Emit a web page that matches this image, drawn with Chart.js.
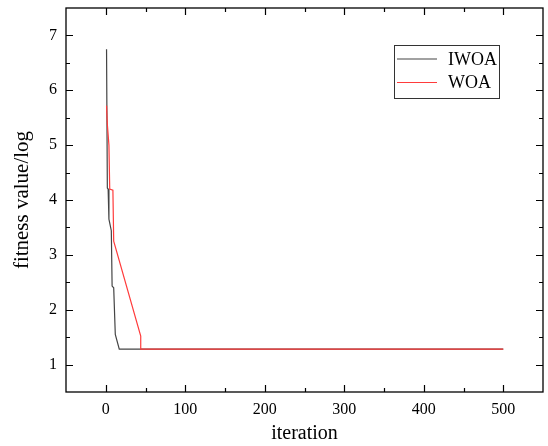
<!DOCTYPE html>
<html>
<head>
<meta charset="utf-8">
<script src="https://cdn.jsdelivr.net/npm/chart.js@4"></script>
<style>
  html, body { margin: 0; padding: 0; background: #fff; }
  #wrap { width: 548px; height: 446px; }
</style>
</head>
<body>
<div id="wrap"><canvas id="fitChart" width="548" height="446"></canvas></div>
<script>
// ---- data ----
const iwoaIter = [1, 2, 3, 4, 7, 8, 10, 12, 17, 500];
const iwoaFit  = [6.75, 4.22, 4.2, 3.65, 3.44, 2.43, 2.4, 1.55, 1.28, 1.28];
const woaIter  = [1, 2, 4, 5, 9, 10, 44, 44, 500];
const woaFit   = [5.72, 5.38, 5.0, 4.2, 4.18, 3.25, 1.52, 1.28, 1.28];
const xTicks = [0, 100, 200, 300, 400, 500];
const yTicks = [1, 2, 3, 4, 5, 6, 7];
const xMinor = [50, 150, 250, 350, 450];
const yMinor = [1.5, 2.5, 3.5, 4.5, 5.5, 6.5];

const FONT = "'Liberation Serif', 'Times New Roman', serif";

function pts(xs, ys) {
    return xs.map((x, i) => ({ x: x, y: ys[i] }));
}

/* frame, inward ticks and boxed legend inside the plot */
const framePlugin = {
    id: "frame",
    afterDraw(chart) {
        const ctx = chart.ctx;
        const a = chart.chartArea;
        const xs = chart.scales.x, ys = chart.scales.y;
        ctx.save();
        ctx.strokeStyle = "#000";
        ctx.lineWidth = 1.3;
        ctx.strokeRect(a.left, a.top, a.right - a.left, a.bottom - a.top);

        ctx.lineWidth = 1.2;
        ctx.beginPath();
        const tx = (v, len) => {
            const p = Math.round(xs.getPixelForValue(v)) + 0.5;
            ctx.moveTo(p, a.bottom); ctx.lineTo(p, a.bottom - len);
            ctx.moveTo(p, a.top); ctx.lineTo(p, a.top + len);
        };
        const ty = (v, len) => {
            const p = Math.round(ys.getPixelForValue(v)) + 0.5;
            ctx.moveTo(a.left, p); ctx.lineTo(a.left + len, p);
            ctx.moveTo(a.right, p); ctx.lineTo(a.right - len, p);
        };
        xTicks.forEach(v => tx(v, 7));
        xMinor.forEach(v => tx(v, 4));
        yTicks.forEach(v => ty(v, 7));
        yMinor.forEach(v => ty(v, 4));
        ctx.stroke();

        // legend box
        const bx = 394, by = 45, bw = 105, bh = 53;
        ctx.lineWidth = 1;
        ctx.strokeStyle = "#333";
        ctx.fillStyle = "#fff";
        ctx.fillRect(bx, by, bw, bh);
        ctx.strokeRect(bx + 0.5, by + 0.5, bw, bh);
        ctx.font = "18px " + FONT;
        ctx.textBaseline = "middle";
        chart.data.datasets.forEach((ds, i) => {
            const yy = by + 14 + i * 23.5;
            ctx.strokeStyle = ds.borderColor;
            ctx.lineWidth = 1.2;
            ctx.beginPath();
            ctx.moveTo(bx + 3, yy); ctx.lineTo(bx + 43, yy);
            ctx.stroke();
            ctx.fillStyle = "#000";
            ctx.fillText(ds.label, bx + 54, yy + 1);
        });
        ctx.restore();
    }
};

new Chart(document.getElementById("fitChart"), {
    type: "scatter",
    data: {
        datasets: [
            {
                label: "IWOA",
                data: pts(iwoaIter, iwoaFit),
                showLine: true,
                borderColor: "#444444",
                borderWidth: 1.2,
                pointRadius: 0,
                tension: 0,
                order: 1
            },
            {
                label: "WOA",
                data: pts(woaIter, woaFit),
                showLine: true,
                borderColor: "#ff3b3b",
                borderWidth: 1.2,
                pointRadius: 0,
                tension: 0,
                order: 0
            }
        ]
    },
    options: {
        responsive: false,
        animation: false,
        layout: { padding: { top: 8, right: 5, left: 0, bottom: 0 } },
        scales: {
            x: {
                type: "linear",
                min: -50,
                max: 550,
                afterBuildTicks: s => { s.ticks = xTicks.map(v => ({ value: v })); },
                afterFit: s => { s.height = 54; s.paddingLeft = 0; s.paddingRight = 0; },
                grid: { display: false, drawTicks: false },
                border: { display: false },
                ticks: {
                    padding: 8,
                    color: "#000",
                    font: { family: FONT, size: 16 }
                },
                title: {
                    display: true,
                    text: "iteration",
                    color: "#000",
                    padding: { top: 13, bottom: 0 },
                    font: { family: FONT, size: 20 }
                }
            },
            y: {
                type: "linear",
                min: 0.5,
                max: 7.5,
                afterBuildTicks: s => { s.ticks = yTicks.map(v => ({ value: v })); },
                afterFit: s => { s.width = 66; s.paddingTop = 0; s.paddingBottom = 0; },
                grid: { display: false, drawTicks: false },
                border: { display: false },
                ticks: {
                    padding: 9,
                    color: "#000",
                    font: { family: FONT, size: 16 }
                },
                title: {
                    display: true,
                    text: "fitness value/log",
                    color: "#000",
                    padding: { top: 10, bottom: 0 },
                    font: { family: FONT, size: 21 }
                }
            }
        },
        plugins: {
            legend: { display: false },
            tooltip: { enabled: false }
        }
    },
    plugins: [framePlugin]
});
</script>
</body>
</html>
